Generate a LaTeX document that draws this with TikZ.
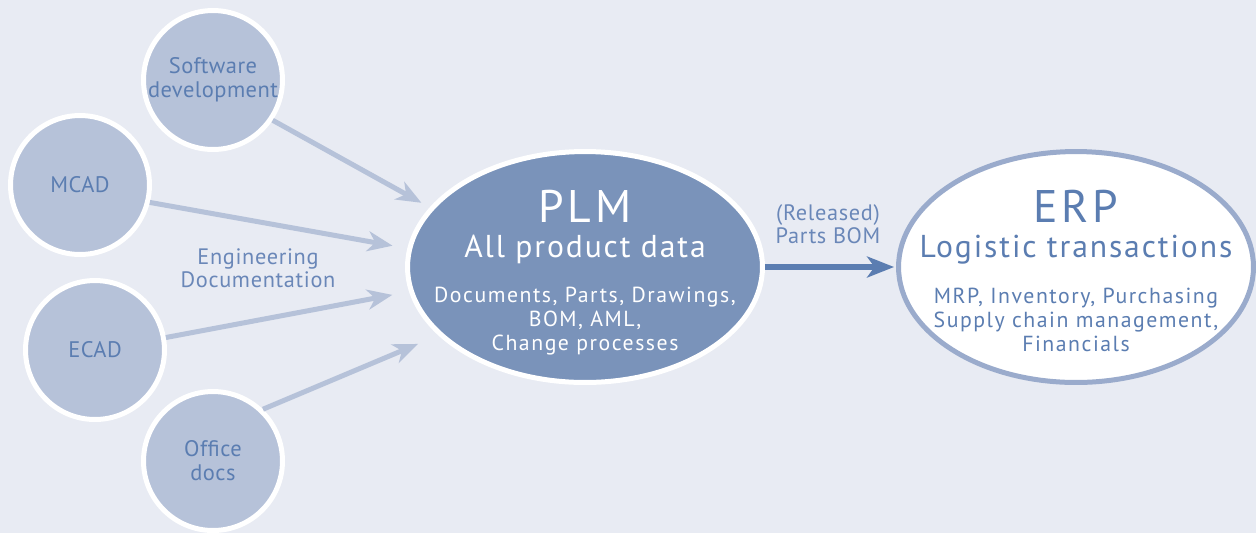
\documentclass[tikz,border=0pt]{standalone}
\usepackage{fontspec}
\setmainfont{PT Sans}
\usetikzlibrary{shapes.geometric,arrows.meta}

\definecolor{bgBlue}{HTML}{E8EBF3}
\definecolor{toolFill}{HTML}{B6C2D9}
\definecolor{plmFill}{HTML}{7A93BA}
\definecolor{erpLine}{HTML}{9AABCC}
\definecolor{inkBlue}{HTML}{5B7DB1}
\definecolor{noteBlue}{HTML}{6A87B8}

\newcommand\spacedfont[3]{\fontsize{#1}{#2}\selectfont\addfontfeature{LetterSpace=#3}}
\newcommand\hubname[1]{{\spacedfont{26}{20}{8}#1}}

\begin{document}
\begin{tikzpicture}[
    x=0.02cm, y=-0.02cm,
    tool/.style={%
      circle, draw=white, line width=0.1cm, fill=toolFill,
      minimum size=2.78cm, inner sep=0pt, text=inkBlue, align=center,
      font=\spacedfont{12.8}{13.6}{2},
    },
    hub/.style={%
      ellipse, line width=0.1cm, inner sep=0pt,
      minimum width=7.1cm, minimum height=4.62cm,
    },
    hubhead/.style={align=center, inner sep=0pt, font=\spacedfont{18}{20}{6}},
    hubdetail/.style={align=center, inner sep=0pt, font=\spacedfont{12.4}{13.6}{7}},
    note/.style={align=center, text=noteBlue, font=\spacedfont{12.7}{13}{3}},
    feed/.style={%
      draw=toolFill, line width=0.1cm,
      -{Stealth[length=0.5cm,width=0.4cm,inset=0.15cm]},
    },
    release/.style={%
      draw=inkBlue, line width=0.11cm,
      -{Stealth[length=0.54cm,width=0.42cm,inset=0.15cm]},
    },
  ]

    \useasboundingbox (0,0) rectangle (1256,532);
    \fill [bgBlue] (-5,-5) rectangle (1261,537);

    % authoring tools on the left
    \node [tool] (soft) at (213,80) {Software\\development};
    \node [tool] (mcad) at (80,185) {MCAD};
    \node [tool] (ecad) at (95,350) {ECAD};
    \node [tool] (office) at (213,461) {Office\\docs};

    % the two systems
    \node [hub, draw=white, fill=plmFill] (plm) at (585,267) {};
    \node [hub, draw=erpLine, fill=white] (erp) at (1076,267) {};

    \node [hubhead, text=white] at (585,227) {\hubname{PLM}\\All product data};
    \node [hubdetail, text=white] at (585,321)
      {Documents, Parts, Drawings,\\BOM, AML,\\Change processes};

    \node [hubhead, text=inkBlue] at (1076,227) {\hubname{ERP}\\Logistic transactions};
    \node [hubdetail, text=inkBlue] at (1076,320)
      {MRP, Inventory, Purchasing\\Supply chain management,\\Financials};

    \draw [feed, shorten >=0.19cm] (soft.-34) -- (plm.159);
    \draw [feed, shorten >=0.3cm] (mcad.-14) -- (plm.174);
    \draw [feed, shorten >=0.34cm] (ecad.10) -- (plm.188);
    \draw [feed, shorten >=0.44cm] (office.46) -- (plm.205);
    \draw [release, shorten >=0.04cm] (plm) -- (erp);

    \node [note] at (258,268) {Engineering\\Documentation};
    \node [note] at (828,224) {(Released)\\Parts BOM};
\end{tikzpicture}
\end{document}
